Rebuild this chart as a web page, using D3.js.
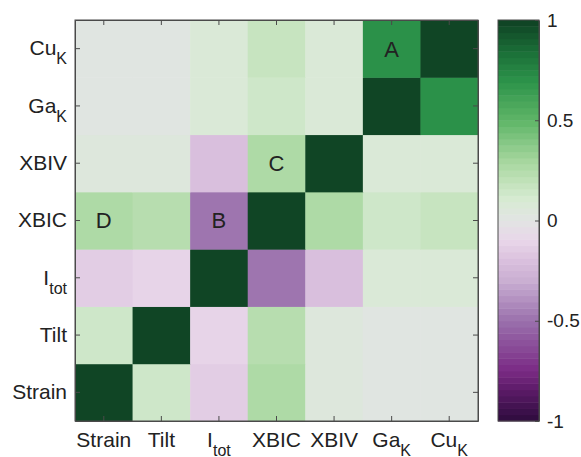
<!DOCTYPE html>
<html>
<head>
<meta charset="utf-8">
<script src="https://cdn.jsdelivr.net/npm/d3@7/dist/d3.min.js"></script>
<style>
  body { margin: 0; background: #fff; }
  text { font-family: "Liberation Sans", Arial, Helvetica, sans-serif; fill: #222; }
</style>
</head>
<body>
<script>
// variable names (column order, also row order from bottom to top)
var names = ["Strain", "Tilt", "I", "XBIC", "XBIV", "Ga", "Cu"];
var subs = ["", "", "tot", "", "", "K", "K"];

// correlation matrix, rows/cols in the order of names
var corr = [
  [1, 0.15, -0.13, 0.26, 0.06, 0, 0],
  [0.15, 1, -0.1, 0.23, 0.06, 0, 0],
  [-0.13, -0.1, 1, -0.5, -0.2, 0.08, 0.08],
  [0.26, 0.23, -0.5, 1, 0.25, 0.13, 0.16],
  [0.06, 0.06, -0.2, 0.25, 1, 0.08, 0.08],
  [0, 0, 0.08, 0.13, 0.08, 1, 0.7],
  [0, 0, 0.08, 0.16, 0.08, 0.7, 1]
];

// letters written into some cells: [column, row, letter]
var marks = [
  ["Ga", "Cu", "A"],
  ["I", "XBIC", "B"],
  ["XBIC", "XBIV", "C"],
  ["Strain", "XBIC", "D"]
];

var cbTicks = [-1, -0.5, 0, 0.5, 1];

// colormap stops
var cmapDomain = [-1, -0.85, -0.75, -0.5, -0.3, -0.2, -0.1, 0, 0.1, 0.2, 0.3, 0.5, 0.7, 0.85, 1];
var cmapColors = ["#2d0b3d", "#5a1a66", "#7a2a84", "#9a70ac", "#c9aed2", "#dac0dd", "#e8d6e9",
  "#e2e4e3", "#d8ebd4", "#c0e1b8", "#a5d69d", "#5fb567", "#2b9249", "#1a6c36", "#0f4023"];
var nLevels = 64;

var width = 581, height = 457;
var mLeft = 75, mTop = 20, mRight = 478, mBottom = 421;

var cmap = d3.scaleLinear().domain(cmapDomain).range(cmapColors).interpolate(d3.interpolateRgb);
function color(v) {
  var k = Math.min(nLevels - 1, Math.floor((v + 1) / 2 * nLevels));
  return cmap(-1 + (k + 0.5) * 2 / nLevels);
}

var svg = d3.select("body").append("svg")
  .attr("width", width)
  .attr("height", height);

var x = d3.scaleBand().domain(names).range([mLeft, mRight]);
var y = d3.scaleBand().domain(names).range([mBottom, mTop]);

var cells = [];
corr.forEach(function (row, i) {
  row.forEach(function (v, j) {
    cells.push({ r: names[i], c: names[j], v: v });
  });
});

svg.selectAll(".cell")
  .data(cells)
  .enter()
  .append("rect")
  .attr("class", "cell")
  .attr("x", function (d) { return x(d.c); })
  .attr("y", function (d) { return y(d.r); })
  .attr("width", x.bandwidth() + 0.5)
  .attr("height", y.bandwidth() + 0.5)
  .attr("fill", function (d) { return color(d.v); });

svg.selectAll(".mark")
  .data(marks)
  .enter()
  .append("text")
  .attr("class", "mark")
  .attr("x", function (d) { return x(d[0]) + x.bandwidth() / 2; })
  .attr("y", function (d) { return y(d[1]) + y.bandwidth() / 2; })
  .attr("dy", "0.36em")
  .attr("text-anchor", "middle")
  .style("font-size", "22px")
  .text(function (d) { return d[2]; });

function subLabel(sel) {
  sel.selectAll("text").each(function (d) {
    var i = names.indexOf(d);
    var t = d3.select(this).text(null);
    t.append("tspan").text(names[i]);
    if (subs[i]) {
      t.append("tspan").attr("dy", "9px").style("font-size", "16px").text(subs[i]);
    }
  });
}

function styleAxis(g) {
  g.selectAll("path, line").attr("stroke", "#4a4a4a").attr("stroke-width", 1);
  g.selectAll("text").style("font-size", "21px").attr("fill", "#222");
}

svg.append("g")
  .attr("transform", "translate(" + mLeft + ",0)")
  .call(d3.axisLeft(y).tickSizeInner(-5).tickSizeOuter(0).tickPadding(8))
  .call(styleAxis)
  .call(subLabel);

svg.append("g")
  .attr("transform", "translate(0," + mBottom + ")")
  .call(d3.axisBottom(x).tickSizeInner(-5).tickSizeOuter(0).tickPadding(11))
  .call(styleAxis)
  .call(subLabel);

svg.append("g")
  .attr("transform", "translate(0," + mTop + ")")
  .call(d3.axisTop(x).tickSizeInner(-5).tickSizeOuter(0).tickFormat(""))
  .call(styleAxis);

svg.append("g")
  .attr("transform", "translate(" + mRight + ",0)")
  .call(d3.axisRight(y).tickSizeInner(-5).tickSizeOuter(0).tickFormat(""))
  .call(styleAxis);

// colorbar
var cbLeft = 498, cbRight = 539;
var cy = d3.scaleLinear().domain([-1, 1]).range([mBottom, mTop]);
var levels = d3.range(nLevels).map(function (k) { return -1 + k * 2 / nLevels; });

svg.selectAll(".cb")
  .data(levels)
  .enter()
  .append("rect")
  .attr("class", "cb")
  .attr("x", cbLeft)
  .attr("width", cbRight - cbLeft)
  .attr("y", function (d) { return cy(d + 2 / nLevels); })
  .attr("height", cy(-1) - cy(-1 + 2 / nLevels) + 0.5)
  .attr("fill", function (d) { return color(d + 1 / nLevels); });

svg.append("rect")
  .attr("x", cbLeft).attr("y", mTop)
  .attr("width", cbRight - cbLeft).attr("height", mBottom - mTop)
  .attr("fill", "none").attr("stroke", "#4a4a4a");

svg.append("g")
  .attr("transform", "translate(" + cbRight + ",0)")
  .call(d3.axisRight(cy).tickValues(cbTicks).tickSizeInner(-4).tickSizeOuter(0).tickPadding(8)
    .tickFormat(function (d) { return String(d); }))
  .call(styleAxis)
  .call(function (g) { g.selectAll("text").style("font-size", "19px"); });

svg.append("rect")
  .attr("x", mLeft).attr("y", mTop)
  .attr("width", mRight - mLeft).attr("height", mBottom - mTop)
  .attr("fill", "none").attr("stroke", "#4a4a4a");
</script>
</body>
</html>
